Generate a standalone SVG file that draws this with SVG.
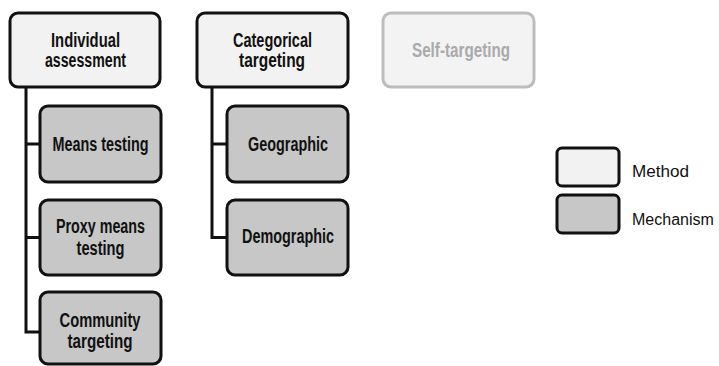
<svg xmlns="http://www.w3.org/2000/svg" width="719" height="366" viewBox="0 0 719 366">
<style>
.method{fill:#f2f2f2;stroke:#111;stroke-width:3}
.mech{fill:#c6c7c6;stroke:#111;stroke-width:3}
.ghost{fill:#f3f3f3;stroke:#bdbdbd;stroke-width:3}
.t{font-family:"Liberation Sans",Arial,sans-serif;font-weight:bold;font-size:20px;fill:#111;text-anchor:middle}
.tg{font-family:"Liberation Sans",Arial,sans-serif;font-weight:bold;font-size:20px;fill:#aaaaaa;text-anchor:middle}
.l{font-family:"Liberation Sans",Arial,sans-serif;font-size:16px;fill:#111}
.conn{fill:none;stroke:#111;stroke-width:3}
</style>
<rect width="719" height="366" fill="#fff"/>
<g id="connectors">
<path class="conn" d="M26 87 V332 H40 M26 144 H40 M26 237.5 H40"/>
<path class="conn" d="M212 87 V237.5 H227 M212 144 H227"/>
</g>
<g id="individual">
<rect class="method" x="10" y="13" width="150" height="74" rx="8"/>
<text class="t" x="85.5" y="47" textLength="69" lengthAdjust="spacingAndGlyphs">Individual</text>
<text class="t" x="85.5" y="67" textLength="81" lengthAdjust="spacingAndGlyphs">assessment</text>
</g>
<g id="means">
<rect class="mech" x="40" y="106" width="121" height="76" rx="8"/>
<text class="t" x="100.5" y="151" textLength="96" lengthAdjust="spacingAndGlyphs">Means testing</text>
</g>
<g id="proxy">
<rect class="mech" x="40" y="200" width="121" height="75" rx="8"/>
<text class="t" x="100.5" y="233" textLength="89" lengthAdjust="spacingAndGlyphs">Proxy means</text>
<text class="t" x="100.5" y="255" textLength="48" lengthAdjust="spacingAndGlyphs">testing</text>
</g>
<g id="community">
<rect class="mech" x="40" y="292" width="121" height="72" rx="8"/>
<text class="t" x="100" y="326.5" textLength="81" lengthAdjust="spacingAndGlyphs">Community</text>
<text class="t" x="100" y="348" textLength="65" lengthAdjust="spacingAndGlyphs">targeting</text>
</g>
<g id="categorical">
<rect class="method" x="197" y="13" width="151" height="74" rx="8"/>
<text class="t" x="272.5" y="47" textLength="79" lengthAdjust="spacingAndGlyphs">Categorical</text>
<text class="t" x="272" y="67" textLength="66" lengthAdjust="spacingAndGlyphs">targeting</text>
</g>
<g id="geographic">
<rect class="mech" x="227" y="106" width="121" height="76" rx="8"/>
<text class="t" x="288" y="151" textLength="80" lengthAdjust="spacingAndGlyphs">Geographic</text>
</g>
<g id="demographic">
<rect class="mech" x="227" y="200" width="121" height="75" rx="8"/>
<text class="t" x="288" y="243" textLength="92" lengthAdjust="spacingAndGlyphs">Demographic</text>
</g>
<g id="self">
<rect class="ghost" x="383" y="13" width="151" height="74" rx="8"/>
<text class="tg" x="461" y="57" textLength="98" lengthAdjust="spacingAndGlyphs">Self-targeting</text>
</g>
<g id="legend">
<rect class="method" x="557" y="148" width="62" height="38" rx="5"/>
<text class="l" x="632" y="176.5" textLength="57" lengthAdjust="spacingAndGlyphs">Method</text>
<rect class="mech" x="557" y="195" width="62" height="38" rx="5"/>
<text class="l" x="632" y="225">Mechanism</text>
</g>
</svg>
